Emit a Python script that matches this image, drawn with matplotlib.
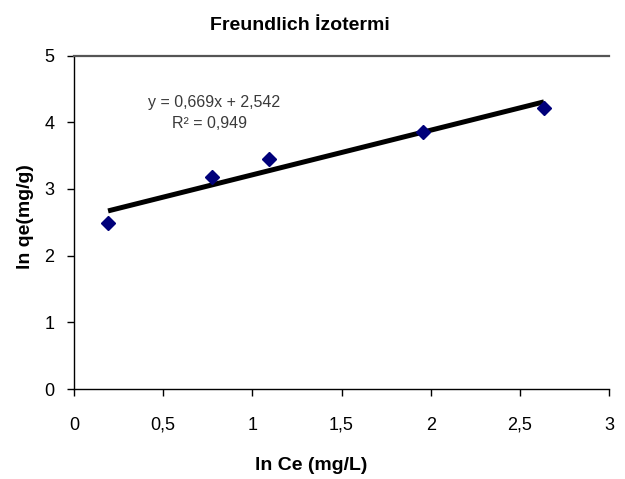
import numpy as np
import matplotlib
matplotlib.use("Agg")
import matplotlib.pyplot as plt

plt.rcParams['font.family'] = ['Liberation Sans Narrow', 'Liberation Sans', 'DejaVu Sans']

# Data
ln_ce = [0.191, 0.772, 1.096, 1.955, 2.635]
ln_qe = [2.485, 3.18, 3.45, 3.849, 4.21]
slope = 0.669
intercept = 2.542
r2_text = "0,949"
x_ticks = [0, 0.5, 1, 1.5, 2, 2.5, 3]
x_tick_labels = ["0", "0,5", "1", "1,5", "2", "2,5", "3"]
y_ticks = [0, 1, 2, 3, 4, 5]
y_tick_labels = ["0", "1", "2", "3", "4", "5"]
title = "Freundlich İzotermi"
x_label = "ln Ce (mg/L)"
y_label = "ln qe(mg/g)"

W, H = 625, 479
fig = plt.figure(figsize=(W / 100, H / 100), dpi=100)
fig.patch.set_facecolor("white")
ax = fig.add_axes([74 / W, 1 - 389 / H, (609 - 74) / W, (389 - 55.5) / H])

# trend line
xl = np.array([min(ln_ce), max(ln_ce)])
ax.plot(xl, slope * xl + intercept, color="black", lw=3.6, solid_capstyle="butt", zorder=2)
# points
ax.plot(ln_ce, ln_qe, linestyle="none", marker="D", markersize=7.5,
        color="#00007a", markeredgecolor="#00007a", zorder=3)

ax.set_xlim(0, 3)
ax.set_ylim(0, 5)
ax.set_xticks(x_ticks)
ax.set_xticklabels(x_tick_labels)
ax.set_yticks(y_ticks)
ax.set_yticklabels(y_tick_labels)
ax.tick_params(axis="x", direction="out", length=5, width=1, labelsize=13, pad=15, colors="black")
ax.tick_params(axis="y", direction="out", length=5, width=1, labelsize=13, pad=9, colors="black")

ax.spines["right"].set_visible(False)
ax.spines["top"].set_color("#555555")
ax.spines["top"].set_linewidth(1.6)
ax.spines["left"].set_color("black")
ax.spines["bottom"].set_color("black")
ax.spines["left"].set_linewidth(1.0)
ax.spines["bottom"].set_linewidth(1.0)

fig.text(300 / W, 1 - 26 / H, title, ha="center", va="center", fontsize=14, fontweight="bold")
fig.text(311 / W, 1 - 466 / H, x_label, ha="center", va="center", fontsize=14, fontweight="bold")
fig.text(26 / W, 1 - 217 / H, y_label, ha="center", va="center", fontsize=14,
         fontweight="bold", rotation=90)

eq = f"y = {slope:.3f}x + {intercept:.3f}".replace(".", ",")
fig.text(214 / W, 1 - 102 / H, eq, ha="center", va="center", fontsize=11.5, color="#3a3a3a")
fig.text(210 / W, 1 - 123 / H, f"R² = {r2_text}", ha="center", va="center", fontsize=11.5, color="#3a3a3a")

fig.savefig("out.png", dpi=100, facecolor="white")
